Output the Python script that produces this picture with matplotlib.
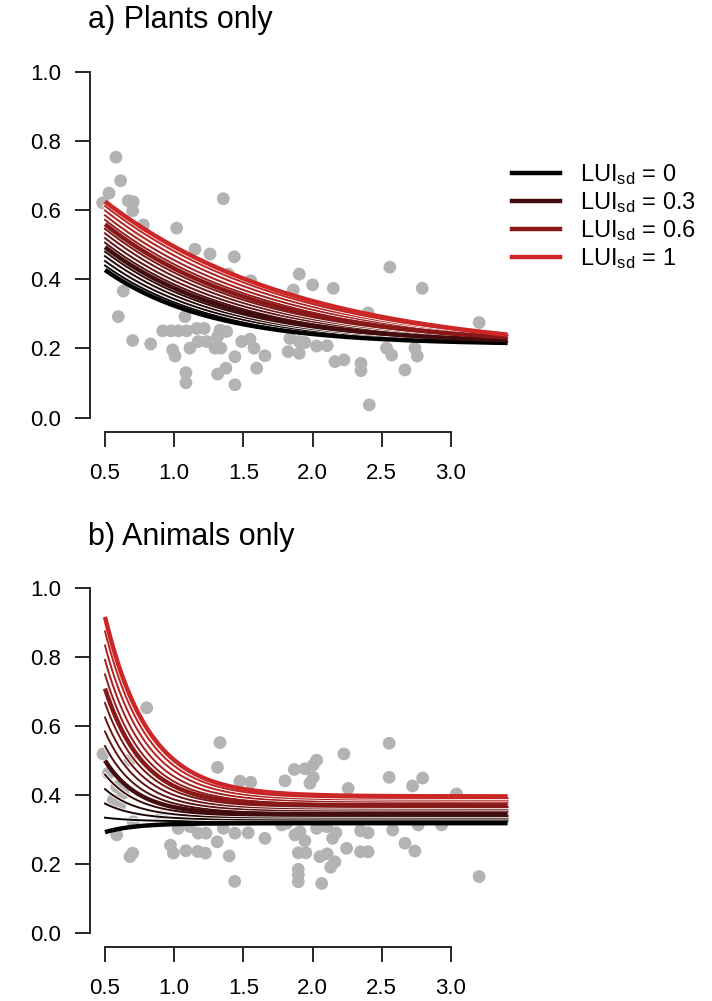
import numpy as np
import matplotlib
matplotlib.use("Agg")
import matplotlib.pyplot as plt
from matplotlib import patheffects as pe
from matplotlib.lines import Line2D

plt.rcParams['font.family'] = ['Liberation Sans', 'DejaVu Sans']
plt.rcParams['mathtext.fontset'] = 'custom'
plt.rcParams['mathtext.rm'] = 'Liberation Sans'
plt.rcParams['mathtext.it'] = 'Liberation Sans:italic'

# LUI_sd levels of the prediction curves (16 curves, 4 of them in the legend)
lui_sd = [0.0, 0.067, 0.133, 0.2, 0.267, 0.333, 0.4, 0.467,
          0.533, 0.6, 0.667, 0.733, 0.8, 0.867, 0.933, 1.0]
legend_idx = [0, 5, 10, 15]
legend_labels = ['0', '0.3', '0.6', '1']

# curve x range
x_start = 0.5
x_end = 3.41

# a) plants: curve value at x_start, value at x_end, decay rate
plants_start = [0.427, 0.440, 0.453, 0.467, 0.480, 0.493, 0.506, 0.519,
                0.533, 0.546, 0.559, 0.572, 0.585, 0.599, 0.612, 0.625]
plants_end = [0.216, 0.218, 0.219, 0.221, 0.222, 0.224, 0.226, 0.227,
              0.229, 0.230, 0.232, 0.234, 0.235, 0.237, 0.238, 0.240]
plants_rate = [1.30, 1.26, 1.22, 1.18, 1.14, 1.10, 1.06, 1.02,
               0.98, 0.94, 0.90, 0.86, 0.82, 0.78, 0.74, 0.70]

# b) animals
animals_start = [0.292, 0.334, 0.375, 0.417, 0.459, 0.500, 0.542, 0.584,
                 0.625, 0.667, 0.709, 0.750, 0.792, 0.834, 0.875, 0.917]
animals_end = [0.318, 0.323, 0.328, 0.334, 0.339, 0.344, 0.349, 0.354,
               0.360, 0.365, 0.370, 0.375, 0.380, 0.386, 0.391, 0.396]
animals_rate = [4.50, 4.41, 4.33, 4.24, 4.15, 4.07, 3.98, 3.89,
                3.81, 3.72, 3.63, 3.55, 3.46, 3.37, 3.29, 3.20]

# observed points
plants_x = [0.579, 0.613, 0.529, 0.483, 0.668, 0.704, 0.700, 1.355, 0.777, 1.018,
            1.150, 1.259, 1.434, 1.391, 1.553, 0.632, 0.596, 1.078, 0.917, 0.977,
            1.030, 1.090, 1.163, 1.217, 1.331, 1.379, 0.700, 0.830, 0.989, 1.006,
            1.114, 1.174, 1.235, 1.295, 1.338, 1.314, 1.439, 1.488, 1.548, 1.577,
            1.596, 1.374, 1.314, 1.085, 1.085, 1.439, 0.741, 0.950, 1.475, 1.904,
            1.861, 2.001, 2.150, 2.559, 2.793, 3.204, 2.402, 1.656, 1.824, 1.837,
            1.904, 1.904, 1.945, 2.030, 2.106, 2.162, 2.227, 2.350, 2.350, 2.535,
            2.572, 2.740, 2.757, 2.668, 2.410]
plants_y = [0.753, 0.685, 0.649, 0.621, 0.627, 0.624, 0.598, 0.633, 0.557, 0.548,
            0.487, 0.473, 0.465, 0.415, 0.396, 0.366, 0.292, 0.292, 0.251, 0.251,
            0.251, 0.251, 0.258, 0.258, 0.253, 0.249, 0.223, 0.213, 0.196, 0.178,
            0.201, 0.220, 0.220, 0.201, 0.201, 0.234, 0.176, 0.220, 0.227, 0.201,
            0.143, 0.143, 0.126, 0.130, 0.101, 0.095, 0.528, 0.444, 0.364, 0.415,
            0.369, 0.384, 0.374, 0.435, 0.374, 0.275, 0.303, 0.179, 0.191, 0.229,
            0.220, 0.186, 0.217, 0.207, 0.208, 0.162, 0.167, 0.157, 0.136, 0.201,
            0.181, 0.201, 0.178, 0.138, 0.037]

animals_x = [0.801, 1.331, 1.313, 0.486, 1.475, 1.553, 1.801, 1.868, 1.945, 2.005,
             2.030, 2.005, 1.981, 2.227, 2.258, 2.554, 2.554, 2.723, 2.796, 3.041,
             3.204, 0.585, 0.681, 0.700, 0.973, 0.994, 1.085, 1.170, 1.226, 1.311,
             1.398, 1.437, 1.656, 1.030, 1.114, 1.174, 1.230, 1.355, 1.439, 1.535,
             0.910, 0.524, 0.681, 0.585, 0.632, 0.560, 0.608, 0.704, 1.897, 1.897,
             1.897, 2.066, 1.873, 1.909, 1.945, 2.030, 2.102, 2.169, 2.145, 2.246,
             2.347, 2.402, 2.579, 2.668, 2.740, 2.764, 2.933, 1.897, 1.952, 2.053,
             2.106, 2.162, 2.131, 2.347, 2.402, 1.777, 1.813, 2.294, 2.559, 2.704]
animals_y = [0.653, 0.552, 0.480, 0.519, 0.440, 0.437, 0.441, 0.474, 0.476, 0.487,
             0.501, 0.451, 0.434, 0.519, 0.419, 0.550, 0.451, 0.426, 0.449, 0.403,
             0.163, 0.284, 0.221, 0.231, 0.254, 0.231, 0.238, 0.236, 0.231, 0.264,
             0.223, 0.149, 0.274, 0.303, 0.308, 0.289, 0.289, 0.303, 0.289, 0.290,
             0.337, 0.463, 0.501, 0.424, 0.405, 0.385, 0.371, 0.322, 0.184, 0.168,
             0.148, 0.143, 0.284, 0.293, 0.267, 0.303, 0.308, 0.290, 0.274, 0.245,
             0.296, 0.290, 0.298, 0.260, 0.237, 0.313, 0.313, 0.232, 0.232, 0.221,
             0.229, 0.206, 0.190, 0.235, 0.235, 0.313, 0.318, 0.361, 0.361, 0.366]

x_ticks = [0.5, 1.0, 1.5, 2.0, 2.5, 3.0]
y_ticks = [0.0, 0.2, 0.4, 0.6, 0.8, 1.0]

dark = '#262626'
point_col = '#b3b3b3'
red_end = np.array([205, 38, 38]) / 255.0


def curve_color(lui):
    # colour ramp from black to firebrick red
    return tuple(red_end * lui)


def model_curve(xs, y0, y1, k):
    # exponential decay between the start and end values
    span = x_end - x_start
    shape = (np.exp(-k * (xs - x_start)) - np.exp(-k * span)) / (1 - np.exp(-k * span))
    return y1 + (y0 - y1) * shape


def draw_panel(ax, px, py, starts, ends, rates):
    ax.scatter(px, py, s=85, color=point_col, edgecolors='none', zorder=1)
    xs = np.linspace(x_start, x_end, 300)
    for i, lui in enumerate(lui_sd):
        if i in legend_idx:
            continue
        ys = model_curve(xs, starts[i], ends[i], rates[i])
        ax.plot(xs, ys, color=curve_color(lui), lw=1.4, zorder=2,
                path_effects=[pe.Stroke(linewidth=2.6, foreground='white'), pe.Normal()])
    for i in legend_idx:
        ys = model_curve(xs, starts[i], ends[i], rates[i])
        ax.plot(xs, ys, color=curve_color(lui_sd[i]), lw=3.2, zorder=3,
                solid_capstyle='butt')

    ax.set_xlim(0.3916, 3.42)
    ax.set_ylim(-0.04, 1.04)
    for side in ['top', 'right']:
        ax.spines[side].set_visible(False)
    ax.spines['left'].set_bounds(0, 1)
    ax.spines['bottom'].set_bounds(0.5, 3.0)
    for side in ['left', 'bottom']:
        ax.spines[side].set_linewidth(1.4)
        ax.spines[side].set_color(dark)
    ax.set_xticks(x_ticks)
    ax.set_xticklabels([f'{v:.1f}' for v in x_ticks])
    ax.set_yticks(y_ticks)
    ax.set_yticklabels([f'{v:.1f}' for v in y_ticks])
    ax.tick_params(axis='both', length=11, width=1.4, color=dark, labelsize=16)
    ax.tick_params(axis='x', pad=12)
    ax.tick_params(axis='y', pad=10)


fig = plt.figure(figsize=(7.12, 10.01), dpi=100)
W, H = 712, 1001

ax_a = fig.add_axes([90 / W, 1 - 431.5 / H, 419 / W, 373.6 / H])
draw_panel(ax_a, plants_x, plants_y, plants_start, plants_end, plants_rate)
ax_b = fig.add_axes([90 / W, 1 - 946.5 / H, 419 / W, 372.0 / H])
draw_panel(ax_b, animals_x, animals_y, animals_start, animals_end, animals_rate)

fig.text(88 / W, 1 - 20 / H, 'a) Plants only', fontsize=22, va='center', ha='left')
fig.text(88 / W, 1 - 537 / H, 'b) Animals only', fontsize=22, va='center', ha='left')

# legend
handles = [Line2D([], [], color=curve_color(lui_sd[i]), lw=3.2) for i in legend_idx]
labels = [r'LUI$_{\mathrm{sd}}$ = ' + t for t in legend_labels]
fig.legend(handles, labels, loc='upper left', bbox_to_anchor=(503 / W, 1 - 153 / H),
           frameon=False, fontsize=17, handlelength=2.0, handletextpad=0.85,
           labelspacing=0.13, borderaxespad=0)

fig.savefig('out.png', dpi=100)
